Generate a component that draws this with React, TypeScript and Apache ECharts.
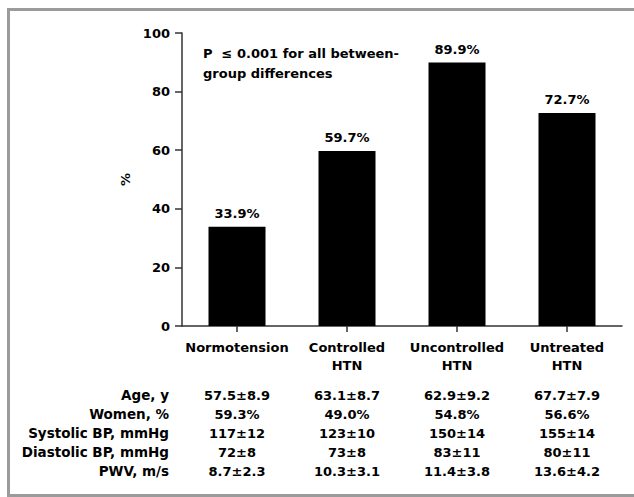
import React, { useEffect, useRef } from "react";
import * as echarts from "echarts";

const categories = ["Normotension", "Controlled\nHTN", "Uncontrolled\nHTN", "Untreated\nHTN"];
const percentValues = [33.9, 59.7, 89.9, 72.7];
const yTicks = [0, 20, 40, 60, 80, 100];
const annotation = "P  \u2264 0.001 for all between-\ngroup differences";

const rowLabels = ["Age, y", "Women, %", "Systolic BP, mmHg", "Diastolic BP, mmHg", "PWV, m/s"];
const ageValues = ["57.5\u00b18.9", "63.1\u00b18.7", "62.9\u00b19.2", "67.7\u00b17.9"];
const womenValues = ["59.3%", "49.0%", "54.8%", "56.6%"];
const systolicValues = ["117\u00b112", "123\u00b110", "150\u00b114", "155\u00b114"];
const diastolicValues = ["72\u00b18", "73\u00b18", "83\u00b111", "80\u00b111"];
const pwvValues = ["8.7\u00b12.3", "10.3\u00b13.1", "11.4\u00b13.8", "13.6\u00b14.2"];

const FONT = "'DejaVu Sans', sans-serif";

export default function App() {
  const ref = useRef<HTMLDivElement>(null);
  useEffect(() => {
    if (!ref.current) return;
    const chart = echarts.init(ref.current, null, { renderer: "svg" });
    const gridLeft = 182;
    const gridTop = 33;
    const gridW = 440;
    const gridH = 293;
    const band = gridW / categories.length;
    const rows = [ageValues, womenValues, systolicValues, diastolicValues, pwvValues];
    const rowY = [395, 414, 433, 452, 471];
    const tableTexts: any[] = [];
    rows.forEach((vals, r) => {
      tableTexts.push({
        type: "text",
        x: 169,
        y: rowY[r],
        style: {
          text: rowLabels[r],
          align: "right",
          verticalAlign: "middle",
          font: `bold 13.5px ${FONT}`,
          fill: "#000",
        },
      });
      vals.forEach((v, c) => {
        tableTexts.push({
          type: "text",
          x: gridLeft + band * (c + 0.5),
          y: rowY[r],
          style: {
            text: v,
            align: "center",
            verticalAlign: "middle",
            font: `bold 13px ${FONT}`,
            fill: "#000",
          },
        });
      });
    });
    chart.setOption({
      animation: false,
      backgroundColor: "#fff",
      textStyle: { fontFamily: FONT },
      grid: { left: gridLeft, top: gridTop, width: gridW, height: gridH },
      xAxis: {
        type: "category",
        data: categories,
        axisLine: { show: true, lineStyle: { color: "#333", width: 1.5 } },
        axisTick: { show: true, alignWithLabel: true, length: 6, lineStyle: { color: "#333", width: 1.5 } },
        axisLabel: {
          interval: 0,
          margin: 12,
          color: "#000",
          fontWeight: "bold",
          fontSize: 13,
          lineHeight: 18,
          fontFamily: FONT,
        },
      },
      yAxis: {
        type: "value",
        min: yTicks[0],
        max: yTicks[yTicks.length - 1],
        interval: 20,
        name: "%",
        nameLocation: "middle",
        nameRotate: 90,
        nameGap: 50,
        nameTextStyle: { color: "#000", fontWeight: "bold", fontSize: 13, fontFamily: FONT },
        axisLine: { show: true, lineStyle: { color: "#333", width: 1.5 } },
        axisTick: { show: true, length: 7, lineStyle: { color: "#333", width: 1.5 } },
        splitLine: { show: false },
        axisLabel: {
          margin: 12,
          color: "#000",
          fontWeight: "bold",
          fontSize: 13,
          fontFamily: FONT,
        },
      },
      series: [
        {
          type: "bar",
          data: percentValues,
          barWidth: 57,
          itemStyle: { color: "#000" },
          label: {
            show: true,
            position: "top",
            distance: 7,
            formatter: "{c}%",
            color: "#000",
            fontWeight: "bold",
            fontSize: 13,
            fontFamily: FONT,
          },
        },
      ],
      graphic: [
        {
          type: "rect",
          shape: { x: 8.5, y: 9.5, width: 700, height: 486 },
          style: { fill: "none", stroke: "#9b9b9b", lineWidth: 3 },
          silent: true,
        },
        {
          type: "text",
          x: 203,
          y: 43,
          style: {
            text: annotation,
            font: `bold 13px ${FONT}`,
            lineHeight: 20,
            fill: "#000",
          },
        },
        ...tableTexts,
      ],
    });
    return () => chart.dispose();
  }, []);
  return (
    <div
      ref={ref}
      style={{ position: "absolute", left: 0, top: 0, width: 634, height: 497 }}
    />
  );
}
